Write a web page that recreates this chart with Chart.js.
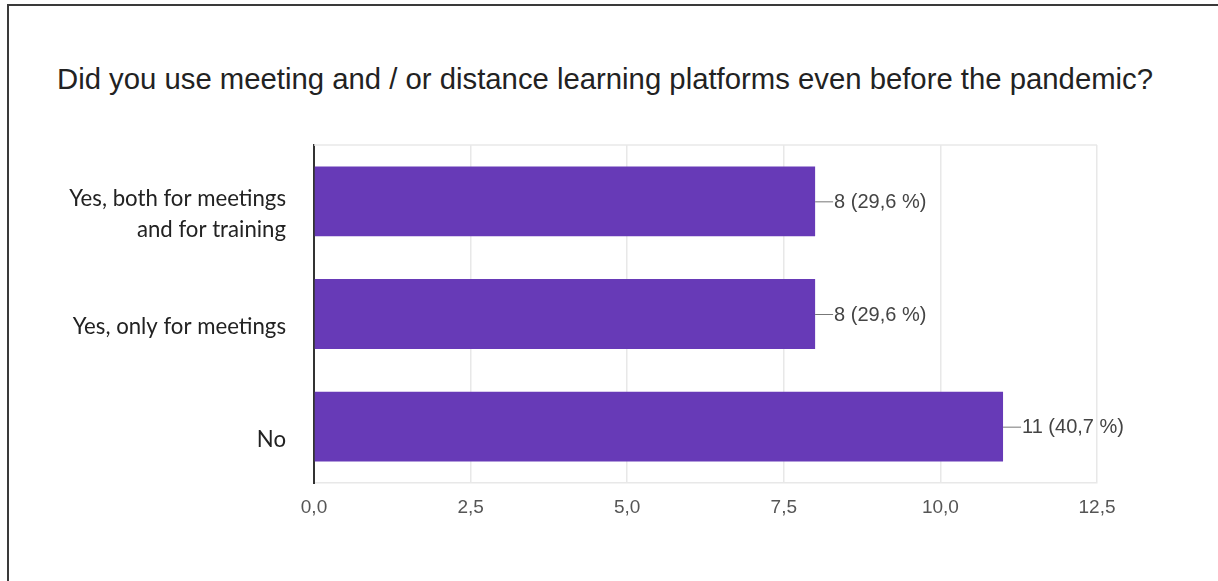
<!DOCTYPE html>
<html>
<head>
<meta charset="utf-8">
<script src="https://cdn.jsdelivr.net/npm/chart.js@4/dist/chart.umd.min.js"></script>
<style>
  html, body { margin: 0; padding: 0; background: #fff; }
  #wrap { position: relative; width: 1218px; height: 581px; overflow: hidden; }
  #frame {
    position: absolute; left: 7px; top: 4px; width: 1211px; height: 577px;
    border-top: 2px solid #3a3a3a; border-left: 2px solid #3a3a3a; box-sizing: border-box;
  }
  #title {
    position: absolute; left: 57px; top: 64px; margin: 0;
    font: 29.3px "Liberation Sans", Arial, sans-serif; line-height: 29px;
    color: #222; white-space: nowrap;
  }
  #chart { position: absolute; left: 0; top: 0; }
</style>
</head>
<body>
<div id="wrap">
  <div id="frame"></div>
  <div id="title">Did you use meeting and / or distance learning platforms even before the pandemic?</div>
  <canvas id="chart" width="1218" height="581"></canvas>
</div>
<script>
// answers and response counts
var answers = [
  ["Yes, both for meetings", "and for training"],
  "Yes, only for meetings",
  "No"
];
var counts = [8, 8, 11];
var xTicks = [0, 2.5, 5, 7.5, 10, 12.5];

var total = counts.reduce(function (a, b) { return a + b; }, 0);

function comma(v, d) {
  return v.toFixed(d).replace(".", ",");
}

// connector + "n (p %)" label next to each bar
var valueLabels = {
  id: "valueLabels",
  afterDatasetsDraw: function (chart) {
    var ctx = chart.ctx;
    var meta = chart.getDatasetMeta(0);
    ctx.save();
    ctx.font = '20px "Liberation Sans", Arial, sans-serif';
    ctx.textBaseline = "middle";
    meta.data.forEach(function (bar, i) {
      var v = counts[i];
      ctx.strokeStyle = "#777";
      ctx.lineWidth = 1;
      ctx.beginPath();
      ctx.moveTo(bar.x, bar.y + 0.5);
      ctx.lineTo(bar.x + 18, bar.y + 0.5);
      ctx.stroke();
      ctx.fillStyle = "#444";
      ctx.fillText(v + " (" + comma(v / total * 100, 1) + " %)", bar.x + 19, bar.y + 1);
    });
    ctx.restore();
  },
  beforeDatasetsDraw: function (chart) {
    // light line closing the top of the plot
    var a = chart.chartArea, ctx = chart.ctx;
    ctx.save();
    ctx.strokeStyle = "#e8e8e8";
    ctx.lineWidth = 1.5;
    ctx.beginPath();
    ctx.moveTo(a.left, a.top);
    ctx.lineTo(a.right, a.top);
    ctx.stroke();
    ctx.restore();
  }
};

new Chart(document.getElementById("chart"), {
  type: "bar",
  data: {
    labels: answers,
    datasets: [{
      data: counts,
      backgroundColor: "#673ab7",
      borderWidth: 0,
      barPercentage: 0.62,
      categoryPercentage: 1
    }]
  },
  options: {
    indexAxis: "y",
    responsive: false,
    animation: false,
    layout: { padding: { top: 145, right: 121, bottom: 0, left: 0 } },
    plugins: {
      legend: { display: false },
      tooltip: { enabled: false }
    },
    scales: {
      x: {
        min: 0,
        max: 12.5,
        afterBuildTicks: function (scale) {
          scale.ticks = xTicks.map(function (v) { return { value: v }; });
        },
        afterFit: function (scale) { scale.height = 98; },
        grid: { color: "#e8e8e8", lineWidth: 1.5, drawTicks: false },
        border: { color: "#e8e8e8", width: 1.5 },
        ticks: {
          padding: 13,
          color: "#555",
          font: { family: '"Liberation Sans", Arial, sans-serif', size: 19 },
          callback: function (v) { return comma(v, 1); }
        }
      },
      y: {
        offset: true,
        afterFit: function (scale) { scale.width = 314; },
        grid: { display: false, drawTicks: false },
        border: { color: "#333", width: 2 },
        ticks: {
          padding: 28,
          labelOffset: 13,
          color: "#222",
          font: { family: "Lato, 'Open Sans', sans-serif", size: 22.2, lineHeight: 1.38 }
        }
      }
    }
  },
  plugins: [valueLabels]
});
</script>
</body>
</html>
